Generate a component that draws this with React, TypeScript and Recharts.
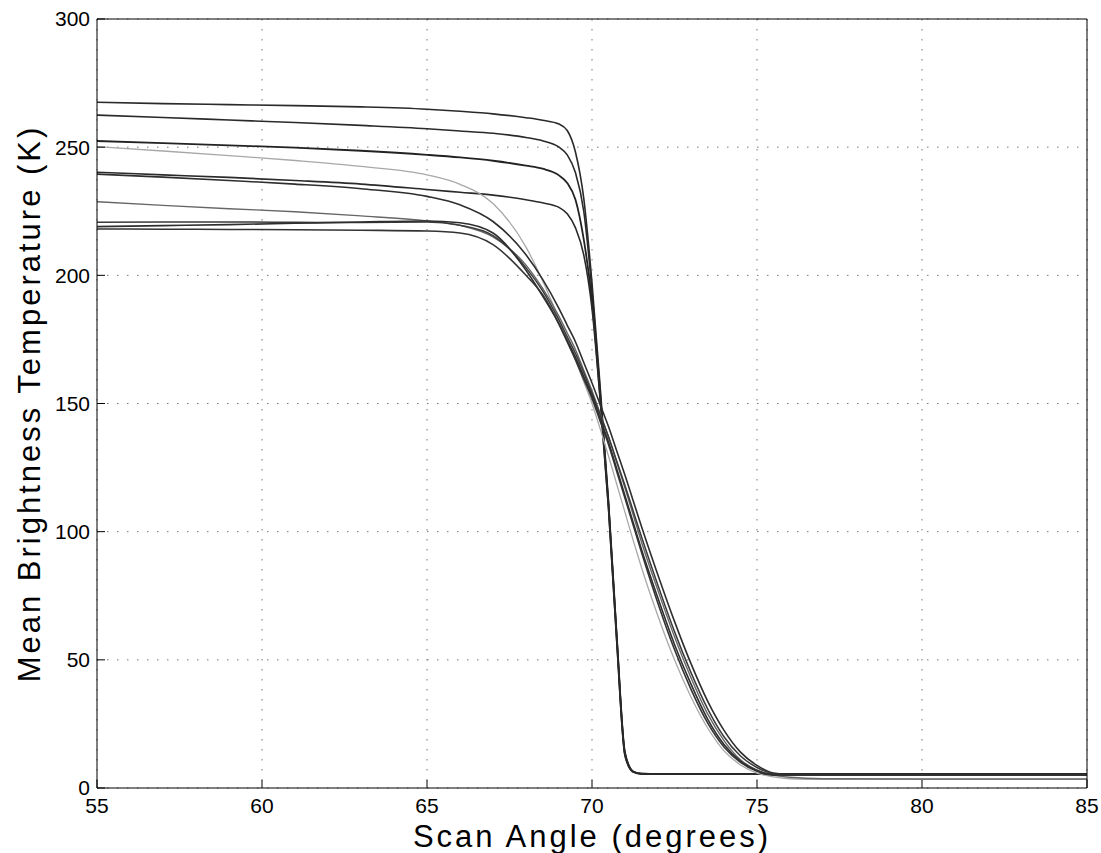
import { LineChart, Line, XAxis, YAxis, CartesianGrid } from 'recharts';

// scan angle samples (degrees), shared by every curve
const angles = [
    55, 57, 59, 61, 63, 65, 66, 67, 68, 68.5, 69, 69.25, 69.5, 69.75, 70, 70.25, 70.5, 70.75, 71, 71.25,
    71.5, 72, 72.5, 73, 73.5, 74, 74.5, 75, 75.5, 76, 77, 80, 85,
];

// sharp cut-off curves
const steep1 = [
    267.5, 267.0, 266.6, 266.2, 265.7, 264.8, 264.0, 263.0, 261.5, 260.5, 259.0, 256.5, 248.0, 230.0, 197.0,
    156.0, 112.0, 60.0, 14.0, 6.5, 5.6, 5.5, 5.5, 5.5, 5.5, 5.5, 5.5, 5.5, 5.5, 5.5, 5.5, 5.5, 5.5,
];
const steep2 = [
    262.5, 261.6, 260.6, 259.6, 258.5, 257.2, 256.3, 255.4, 253.8, 252.5, 250.0, 247.0, 240.0, 225.0, 194.0,
    154.0, 111.0, 59.0, 13.5, 6.4, 5.6, 5.5, 5.5, 5.5, 5.5, 5.5, 5.5, 5.5, 5.5, 5.5, 5.5, 5.5, 5.5,
];
const steep3 = [
    252.4, 251.6, 250.7, 249.8, 248.6, 247.0, 246.0, 244.7, 242.8, 241.6, 239.0, 236.0, 229.5, 214.0, 190.0,
    152.0, 110.0, 58.0, 13.0, 6.3, 5.5, 5.4, 5.4, 5.4, 5.4, 5.4, 5.4, 5.4, 5.4, 5.4, 5.4, 5.4, 5.4,
];
const steep4 = [
    240.2, 239.2, 238.2, 237.0, 235.6, 233.5, 232.4, 231.3, 229.5, 228.3, 226.5, 224.0, 218.5, 208.0, 187.0,
    151.0, 109.0, 57.0, 12.5, 6.2, 5.5, 5.4, 5.4, 5.4, 5.4, 5.4, 5.4, 5.4, 5.4, 5.4, 5.4, 5.4, 5.4,
];

// gradual roll-off curves
const soft1 = [
    250.2, 248.5, 246.7, 244.8, 242.5, 239.2, 235.5, 228.0, 211.0, 198.0, 183.0, 175.0, 167.0, 158.5, 150.0,
    140.0, 129.5, 118.5, 107.5, 96.5, 86.0, 67.0, 50.0, 35.5, 23.5, 14.5, 9.0, 5.8, 4.3, 3.6, 3.4, 3.4, 3.4,
];
const soft2 = [
    239.5, 238.3, 237.0, 235.6, 233.8, 230.8, 227.5, 221.0, 208.0, 198.5, 187.0, 180.5, 174.0, 166.0, 158.0,
    149.5, 141.0, 131.5, 122.0, 112.0, 102.0, 83.0, 65.0, 48.5, 34.0, 22.5, 14.0, 8.8, 5.8, 5.3, 5.2, 5.2, 5.2,
];
const soft3 = [
    228.7, 227.3, 226.0, 224.8, 223.2, 221.2, 219.5, 215.0, 204.0, 195.0, 184.0, 177.5, 171.0, 163.0, 155.0,
    146.0, 137.0, 127.0, 117.0, 106.5, 96.0, 77.0, 59.0, 43.0, 29.0, 18.5, 11.0, 7.0, 5.0, 4.2, 3.6, 3.5, 3.5,
];
const soft4 = [
    220.7, 220.8, 220.8, 220.7, 220.6, 220.8, 219.5, 215.5, 203.0, 194.0, 182.5, 176.0, 169.5, 162.0, 154.0,
    145.5, 137.0, 127.5, 118.0, 108.0, 98.0, 79.0, 61.0, 45.0, 31.0, 20.0, 12.5, 8.0, 5.5, 5.0, 5.0, 5.0, 5.0,
];
const soft5 = [
    219.0, 219.4, 219.8, 220.3, 220.8, 221.2, 220.5, 216.5, 202.0, 192.0, 181.0, 174.5, 168.0, 160.5, 153.0,
    144.0, 135.0, 124.5, 114.0, 103.5, 93.0, 74.0, 56.0, 40.5, 27.0, 17.0, 10.5, 6.8, 5.2, 5.0, 5.0, 5.0, 5.0,
];
const soft6 = [
    218.1, 218.0, 217.9, 217.8, 217.6, 217.3, 216.5, 212.0, 200.0, 192.5, 181.0, 174.0, 167.0, 159.5, 152.0,
    143.0, 134.0, 123.5, 113.0, 102.5, 92.0, 72.0, 54.0, 38.5, 25.5, 16.0, 10.0, 6.5, 5.0, 5.0, 5.0, 5.0, 5.0,
];

const xTicks = [55, 60, 65, 70, 75, 80, 85];
const yTicks = [0, 50, 100, 150, 200, 250, 300];

const series = [
    { key: 'steep1', values: steep1, color: '#2a2a2a', width: 1.6 },
    { key: 'steep2', values: steep2, color: '#2a2a2a', width: 1.6 },
    { key: 'steep3', values: steep3, color: '#222222', width: 1.8 },
    { key: 'steep4', values: steep4, color: '#2a2a2a', width: 1.6 },
    { key: 'soft1', values: soft1, color: '#a8a8a8', width: 1.3 },
    { key: 'soft2', values: soft2, color: '#2e2e2e', width: 1.6 },
    { key: 'soft3', values: soft3, color: '#666666', width: 1.4 },
    { key: 'soft4', values: soft4, color: '#3a3a3a', width: 1.5 },
    { key: 'soft5', values: soft5, color: '#2e2e2e', width: 1.6 },
    { key: 'soft6', values: soft6, color: '#333333', width: 1.6 },
];

const data = angles.map((angle, i) => {
    const row: Record<string, number> = { angle };
    series.forEach((s) => {
        row[s.key] = s.values[i];
    });
    return row;
});

const font = '"Liberation Sans", Arial, Helvetica, sans-serif';
const tickStyle = { fill: '#000', fontSize: 21, fontFamily: font };
const axisStroke = { stroke: '#000', strokeWidth: 1 };
const labelStyle = { fill: '#000', fontSize: 31, letterSpacing: 3, fontFamily: font };

export default function App() {
    return (
        <div style={{ position: 'absolute', left: 0, top: 0, width: 1101, height: 853, background: '#fff' }}>
            <LineChart width={1101} height={853} data={data} margin={{ top: 18, right: 13, bottom: 0, left: 0 }}>
                <CartesianGrid stroke="#777" strokeDasharray="1.5 8.5" />
                <XAxis
                    dataKey="angle"
                    type="number"
                    domain={[55, 85]}
                    ticks={xTicks}
                    height={65}
                    tickSize={-8}
                    tickMargin={18}
                    tick={tickStyle}
                    axisLine={axisStroke}
                    tickLine={axisStroke}
                    label={{
                        value: 'Scan Angle (degrees)',
                        position: 'insideBottom',
                        offset: 6,
                        style: labelStyle,
                    }}
                />
                <XAxis
                    xAxisId="top"
                    dataKey="angle"
                    type="number"
                    orientation="top"
                    domain={[55, 85]}
                    ticks={xTicks}
                    height={1}
                    tickSize={-8}
                    tick={false}
                    axisLine={axisStroke}
                    tickLine={axisStroke}
                />
                <YAxis
                    type="number"
                    domain={[0, 300]}
                    ticks={yTicks}
                    width={97}
                    tickSize={-8}
                    tickMargin={15}
                    tick={tickStyle}
                    axisLine={axisStroke}
                    tickLine={axisStroke}
                    label={{
                        value: 'Mean Brightness Temperature (K)',
                        angle: -90,
                        position: 'insideLeft',
                        offset: 29,
                        style: { ...labelStyle, textAnchor: 'middle' },
                    }}
                />
                <YAxis
                    yAxisId="right"
                    type="number"
                    orientation="right"
                    domain={[0, 300]}
                    ticks={yTicks}
                    width={1}
                    tickSize={-8}
                    tick={false}
                    axisLine={axisStroke}
                    tickLine={axisStroke}
                />
                {series.map((s) => (
                    <Line
                        key={s.key}
                        type="monotone"
                        dataKey={s.key}
                        stroke={s.color}
                        strokeWidth={s.width}
                        dot={false}
                        activeDot={false}
                        isAnimationActive={false}
                    />
                ))}
            </LineChart>
        </div>
    );
}
